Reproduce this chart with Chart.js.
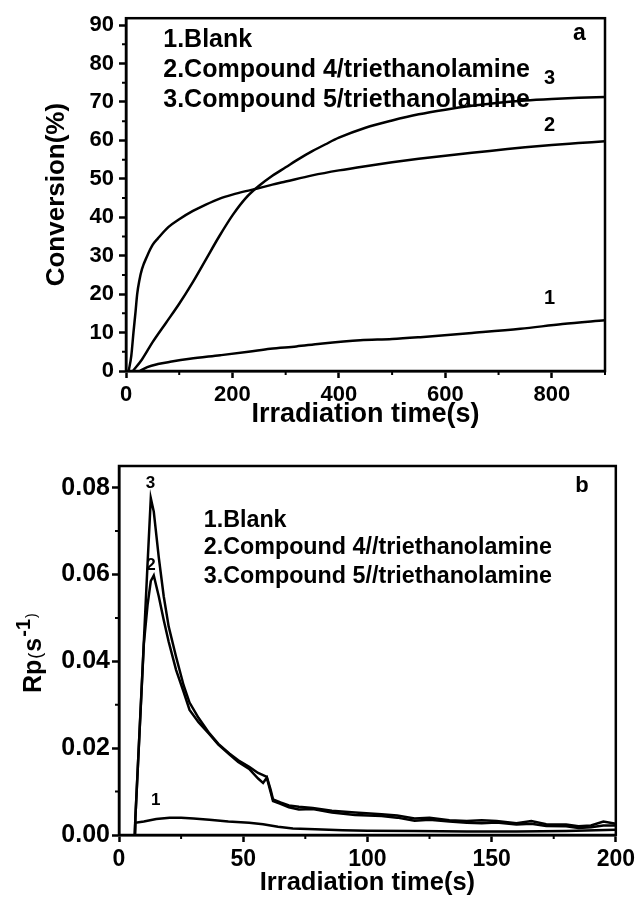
<!DOCTYPE html>
<html>
<head>
<meta charset="utf-8">
<script src="https://cdn.jsdelivr.net/npm/chart.js@4.4.1/dist/chart.umd.min.js"></script>
<style>
  html, body { margin: 0; padding: 0; background: #fff; }
  #wrap { position: relative; width: 639px; height: 902px; }
  canvas { position: absolute; left: 0; }
</style>
</head>
<body>
<div id="wrap">
  <canvas id="convChart" width="639" height="440" style="top:0"></canvas>
  <canvas id="rateChart" width="639" height="462" style="top:440px"></canvas>
</div>
<script>
// ---- panel a: conversion (%) vs irradiation time (s)
var blankT = [26, 40, 60, 83, 120, 177, 230, 271, 320, 365, 440, 500, 553, 650, 741, 820, 900];
var blankConv = [0, 1, 1.8, 2.4, 3.2, 4.1, 5.0, 5.8, 6.4, 7.1, 8.0, 8.3, 8.8, 9.9, 11.0, 12.2, 13.2];

var comp4T = [5, 10, 14, 18, 21, 25, 30, 40, 50, 60, 80, 100, 125, 150, 175, 200, 225, 250, 275, 300, 350, 400, 450, 500, 550, 600, 650, 700, 750, 800, 850, 900];
var comp4Conv = [0, 4, 10, 15.5, 20, 23.5, 26.5, 30, 32.8, 34.5, 37.5, 39.5, 41.6, 43.3, 44.8, 45.9, 46.8, 47.6, 48.5, 49.3, 50.9, 52.2, 53.3, 54.3, 55.2, 56.0, 56.8, 57.5, 58.2, 58.8, 59.3, 59.8];

var comp5T = [13, 30, 50, 75, 100, 125, 150, 175, 200, 225, 250, 275, 300, 325, 350, 375, 400, 450, 500, 550, 600, 650, 700, 750, 800, 850, 900];
var comp5Conv = [0, 3, 7.5, 12.5, 17.5, 23, 29, 35, 40.5, 45, 48.2, 50.8, 53, 55.2, 57.2, 59, 60.7, 63.3, 65.2, 66.8, 68, 69, 69.8, 70.4, 70.8, 71.1, 71.3];

var convXTicks = [0, 200, 400, 600, 800];
var convXMinor = [100, 300, 500, 700, 900];
var convYTicks = [0, 10, 20, 30, 40, 50, 60, 70, 80, 90];
var convYMinor = [5, 15, 25, 35, 45, 55, 65, 75, 85];

// ---- panel b: Rp (1/s) vs irradiation time (s)
var blankRateT = [6.4, 6.5, 10, 15, 20.4, 25, 30, 36.4, 44, 52.4, 58, 64, 70, 79, 90, 100, 119, 140, 160, 180, 200];
var blankRate = [0, 0.0028, 0.0031, 0.0037, 0.0040, 0.0040, 0.0038, 0.0035, 0.0031, 0.0028, 0.0025, 0.0019, 0.0015, 0.0013, 0.0011, 0.0010, 0.0009, 0.0008, 0.0008, 0.0009, 0.0012];

var rateT = [6.4, 6.6, 8, 10, 11.5, 12.8, 14, 16, 18, 20, 23, 26, 28.4, 32, 36.4, 40, 44.4, 48, 52.4, 56, 58, 59.5, 61, 62, 65, 68.4, 72.4, 78, 85.7, 95, 105.7, 112, 119, 125, 133, 140, 146, 152, 160, 166, 172, 180, 185, 190, 195, 200];
var comp5Rate = [0, 0.004, 0.0207, 0.0445, 0.0625, 0.0776, 0.0745, 0.064, 0.055, 0.048, 0.041, 0.0345, 0.0305, 0.027, 0.0234, 0.021, 0.0188, 0.0172, 0.0157, 0.0143, 0.0138, 0.0134, 0.0105, 0.0082, 0.0075, 0.0068, 0.0065, 0.0062, 0.0056, 0.0052, 0.0048, 0.0045, 0.0038, 0.0040, 0.0034, 0.0032, 0.0034, 0.0032, 0.0027, 0.0032, 0.0025, 0.0024, 0.0020, 0.0022, 0.0031, 0.0026];
var comp4Rate = [0, 0.004, 0.0205, 0.044, 0.053, 0.0585, 0.0598, 0.055, 0.0495, 0.0445, 0.038, 0.033, 0.0288, 0.026, 0.0232, 0.0208, 0.0186, 0.0168, 0.0152, 0.0130, 0.0120, 0.0132, 0.0100, 0.0078, 0.0072, 0.0064, 0.0059, 0.0060, 0.0052, 0.0046, 0.0044, 0.0040, 0.0033, 0.0035, 0.0031, 0.0028, 0.0027, 0.0029, 0.0024, 0.0026, 0.0021, 0.0020, 0.0016, 0.0018, 0.0022, 0.0022];

var rateXTicks = [0, 50, 100, 150, 200];
var rateXMinor = [25, 75, 125, 175];
var rateYTicks = [0, 0.02, 0.04, 0.06, 0.08];
var rateYMinor = [0.01, 0.03, 0.05, 0.07];

var FONT = 'Arial, "Liberation Sans", Helvetica, sans-serif';
Chart.defaults.font.family = FONT;
Chart.defaults.font.weight = 'bold';
Chart.defaults.color = '#000';

function pts(xs, ys) {
  return xs.map(function (x, i) { return { x: x, y: ys[i] }; });
}

function curve(xs, ys, smooth) {
  return {
    data: pts(xs, ys),
    borderColor: '#000',
    borderWidth: 2.5,
    pointRadius: 0,
    fill: false,
    tension: 0,
    cubicInterpolationMode: smooth ? 'monotone' : 'default'
  };
}

// frame, minor ticks and in-plot notes
function decor(xMinor, yMinor, notes, extra) {
  return {
    id: 'decor',
    afterDraw: function (chart) {
      var ctx = chart.ctx, a = chart.chartArea;
      var xs = chart.scales.x, ys = chart.scales.y;
      ctx.save();
      ctx.strokeStyle = '#000';
      ctx.lineWidth = 2.5;
      ctx.strokeRect(a.left, a.top, a.right - a.left, a.bottom - a.top);
      ctx.lineWidth = 2;
      ctx.beginPath();
      xMinor.forEach(function (v) {
        var p = xs.getPixelForValue(v);
        ctx.moveTo(p, a.bottom); ctx.lineTo(p, a.bottom + 4);
      });
      yMinor.forEach(function (v) {
        var p = ys.getPixelForValue(v);
        ctx.moveTo(a.left, p); ctx.lineTo(a.left - 4, p);
      });
      ctx.stroke();
      ctx.fillStyle = '#000';
      ctx.textBaseline = 'middle';
      notes.forEach(function (n) {
        ctx.font = n.font;
        ctx.textAlign = n.align || 'left';
        ctx.fillText(n.text, xs.getPixelForValue(n.x), ys.getPixelForValue(n.y));
      });
      if (extra) extra(ctx, chart);
      ctx.restore();
    }
  };
}

function axis(min, max, ticks, fmt, size, pad, fit) {
  return {
    type: 'linear', min: min, max: max,
    afterBuildTicks: function (s) { s.ticks = ticks.map(function (v) { return { value: v }; }); },
    afterFit: fit,
    grid: { drawOnChartArea: false, tickLength: 7, tickWidth: 2.5, tickColor: '#000' },
    border: { color: '#000', width: 2.5 },
    ticks: { color: '#000', font: { size: size, weight: 'bold' }, padding: pad, maxRotation: 0, autoSkip: false,
      callback: fmt }
  };
}

// ---- chart a
var convX = axis(0, 900, convXTicks, function (v) { return v; }, 22, 4, function (s) { s.height = 69; });
convX.title = { display: true, text: 'Irradiation time(s)', color: '#000', font: { size: 27, weight: 'bold' }, padding: { top: 0, bottom: 9 } };
var convY = axis(0, 91.8, convYTicks, function (v) { return v; }, 22, 5, function (s) { s.width = 126; });
convY.title = { display: true, text: 'Conversion(%)', color: '#000', font: { size: 26, weight: 'bold' }, padding: { top: 41, bottom: 0 } };

var notesA = [
  { text: '1.Blank', x: 70, y: 86, font: 'bold 25px ' + FONT },
  { text: '2.Compound 4/triethanolamine', x: 70, y: 78.2, font: 'bold 25px ' + FONT },
  { text: '3.Compound 5/triethanolamine', x: 70, y: 70.5, font: 'bold 25px ' + FONT },
  { text: 'a', x: 852, y: 87.9, font: 'bold 23px ' + FONT, align: 'center' },
  { text: '3', x: 796, y: 76, font: 'bold 20px ' + FONT, align: 'center' },
  { text: '2', x: 796, y: 63.9, font: 'bold 20px ' + FONT, align: 'center' },
  { text: '1', x: 796, y: 18.8, font: 'bold 20px ' + FONT, align: 'center' }
];

new Chart(document.getElementById('convChart'), {
  type: 'line',
  data: {
    datasets: [
      curve(blankT, blankConv, true),
      curve(comp4T, comp4Conv, true),
      curve(comp5T, comp5Conv, true)
    ]
  },
  options: {
    responsive: false,
    animation: false,
    layout: { padding: { left: 0, right: 34, top: 15, bottom: 0 } },
    scales: { x: convX, y: convY },
    plugins: { legend: { display: false }, tooltip: { enabled: false } }
  },
  plugins: [decor(convXMinor, convYMinor, notesA)]
});

// ---- chart b
var rateX = axis(0, 200, rateXTicks, function (v) { return v; }, 23, 4, function (s) { s.height = 67; });
rateX.title = { display: true, text: 'Irradiation time(s)', color: '#000', font: { size: 25.5, weight: 'bold' }, padding: { top: 0, bottom: 4 } };
var rateY = axis(0, 0.085, rateYTicks, function (v) { return v.toFixed(2); }, 25, 2, function (s) { s.width = 119; });

var notesB = [
  { text: '1.Blank', x: 34.1, y: 0.0724, font: 'bold 23.3px ' + FONT },
  { text: '2.Compound 4//triethanolamine', x: 34.1, y: 0.0661, font: 'bold 23.3px ' + FONT },
  { text: '3.Compound 5//triethanolamine', x: 34.1, y: 0.0595, font: 'bold 23.3px ' + FONT },
  { text: 'b', x: 186.4, y: 0.0803, font: 'bold 22px ' + FONT, align: 'center' },
  { text: '3', x: 12.7, y: 0.081, font: 'bold 17px ' + FONT, align: 'center' },
  { text: '2', x: 12.9, y: 0.0622, font: 'bold 17px ' + FONT, align: 'center' },
  { text: '1', x: 14.8, y: 0.0081, font: 'bold 17px ' + FONT, align: 'center' }
];

// y title Rp(s^-1) with superscript, drawn rotated
function rateTitle(ctx) {
  ctx.translate(41, 253);
  ctx.rotate(-Math.PI / 2);
  ctx.textAlign = 'left';
  ctx.textBaseline = 'alphabetic';
  var x = 0;
  var parts = [
    { t: 'Rp', f: 'bold 25px ', dy: 0 },
    { t: '(', f: '18px ', dy: 0 },
    { t: 's', f: 'bold 25px ', dy: 0 },
    { t: '-1', f: 'bold 20px ', dy: -11 },
    { t: ')', f: '14px ', dy: -5 }
  ];
  parts.forEach(function (p) {
    ctx.font = p.f + FONT;
    ctx.fillText(p.t, x, p.dy);
    x += ctx.measureText(p.t).width + 1;
  });
}

new Chart(document.getElementById('rateChart'), {
  type: 'line',
  data: {
    datasets: [
      curve(blankRateT, blankRate, false),
      curve(rateT, comp4Rate, false),
      curve(rateT, comp5Rate, false)
    ]
  },
  options: {
    responsive: false,
    animation: false,
    layout: { padding: { left: 0, right: 21, top: 26, bottom: 0 } },
    scales: { x: rateX, y: rateY },
    plugins: { legend: { display: false }, tooltip: { enabled: false } }
  },
  plugins: [decor(rateXMinor, rateYMinor, notesB, rateTitle)]
});
</script>
</body>
</html>
